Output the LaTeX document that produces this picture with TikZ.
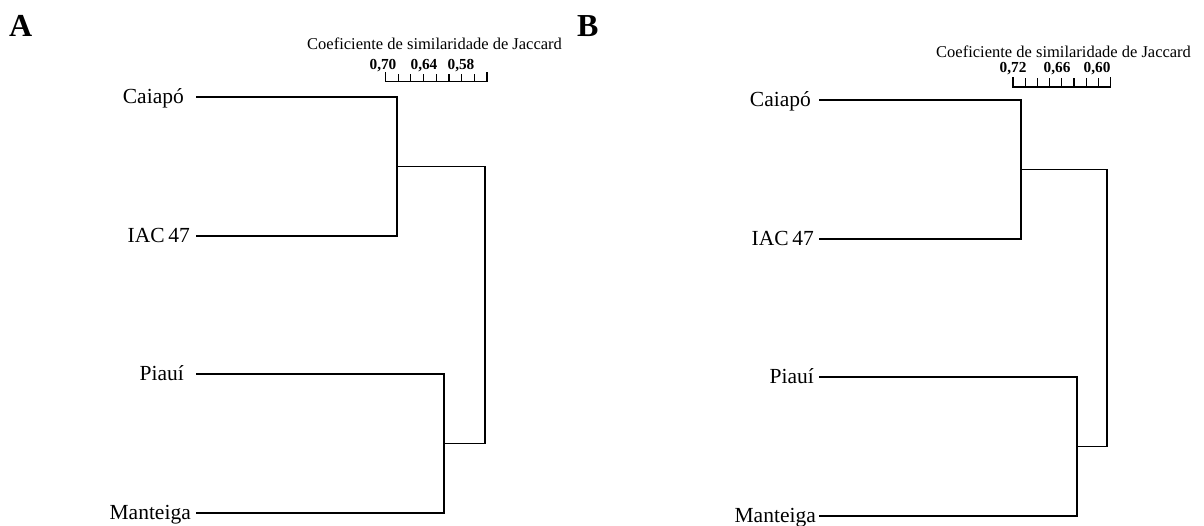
\documentclass[tikz,border=0pt]{standalone}
\usepackage{fontspec}
\setmainfont{Liberation Serif}
\begin{document}
\begin{tikzpicture}[x=1pt,y=-1pt,
  lbl/.style={anchor=base east,inner sep=0pt,font=\fontsize{21.5}{24}\selectfont},
  panel/.style={anchor=base west,inner sep=0pt,font=\fontsize{32}{34}\selectfont\bfseries},
  ttl/.style={anchor=base west,inner sep=0pt,font=\fontsize{16.5}{18}\selectfont},
  num/.style={anchor=base,inner sep=0pt,font=\fontsize{15.3}{17}\selectfont\bfseries},
  branch/.style={line width=1.3pt,black},
  tick/.style={line width=1.1pt,black}]
\useasboundingbox (0,0) rectangle (1204,525);

% ---------------- Panel A ----------------
\node[panel] (labA) at (9,36) {A};
\node[ttl] (ttlA) at (307,49.5) {Coeficiente de similaridade\ de Jaccard};
\node[num] (nA1) at (383,69) {0,70};
\node[num] (nA2) at (424,69) {0,64};
\node[num] (nA3) at (461,69) {0,58};
\draw[tick] (385.5,72) -- (385.5,81.5) -- (487,81.5) -- (487,72);
\foreach \i in {1,...,7} \draw[tick] ({385.5+\i*12.69},74) -- ({385.5+\i*12.69},81.5);

\coordinate (a1) at (196,97);
\coordinate (a2) at (196,236);
\coordinate (a3) at (196,374);
\coordinate (a4) at (196,513);
\node[lbl] (tA1) at (184,103) {Caiapó};
\node[lbl] (tA2) at (190,242) {IAC\,47};
\node[lbl] (tA3) at (184,380) {Piauí};
\node[lbl] (tA4) at (191,519) {Manteiga};
\coordinate (ja1) at (397,166.5);
\coordinate (ja2) at (444,443.5);
\coordinate (jr) at (485,305);
\draw[branch] (a1) -- (a1 -| ja1) -- (a2 -| ja1) -- (a2);
\draw[branch] (a3) -- (a3 -| ja2) -- (a4 -| ja2) -- (a4);
\draw[branch] (ja1) -- (ja1 -| jr) -- (ja2 -| jr) -- (ja2);

% ---------------- Panel B ----------------
\node[panel] (labB) at (577,36) {B};
\node[ttl] (ttlB) at (936,57) {Coeficiente de similaridade\ de Jaccard};
\node[num] (nB1) at (1013,72) {0,72};
\node[num] (nB2) at (1057,72) {0,66};
\node[num] (nB3) at (1097,72) {0,60};
\draw[tick] (1013,77) -- (1013,87) -- (1110.5,87) -- (1110.5,77);
\foreach \i in {1,...,7} \draw[tick] ({1013+\i*12.19},78) -- ({1013+\i*12.19},87);

\coordinate (b1) at (819,100);
\coordinate (b2) at (819,239);
\coordinate (b3) at (819,377);
\coordinate (b4) at (819,516);
\node[lbl] (tB1) at (811,106) {Caiapó};
\node[lbl] (tB2) at (814,245) {IAC\,47};
\node[lbl] (tB3) at (814,383) {Piauí};
\node[lbl] (tB4) at (816,522) {Manteiga};
\coordinate (jb1) at (1021,169.5);
\coordinate (jb2) at (1077,446.5);
\coordinate (jbr) at (1107,308);
\draw[branch] (b1) -- (b1 -| jb1) -- (b2 -| jb1) -- (b2);
\draw[branch] (b3) -- (b3 -| jb2) -- (b4 -| jb2) -- (b4);
\draw[branch] (jb1) -- (jb1 -| jbr) -- (jb2 -| jbr) -- (jb2);
\end{tikzpicture}
\end{document}
